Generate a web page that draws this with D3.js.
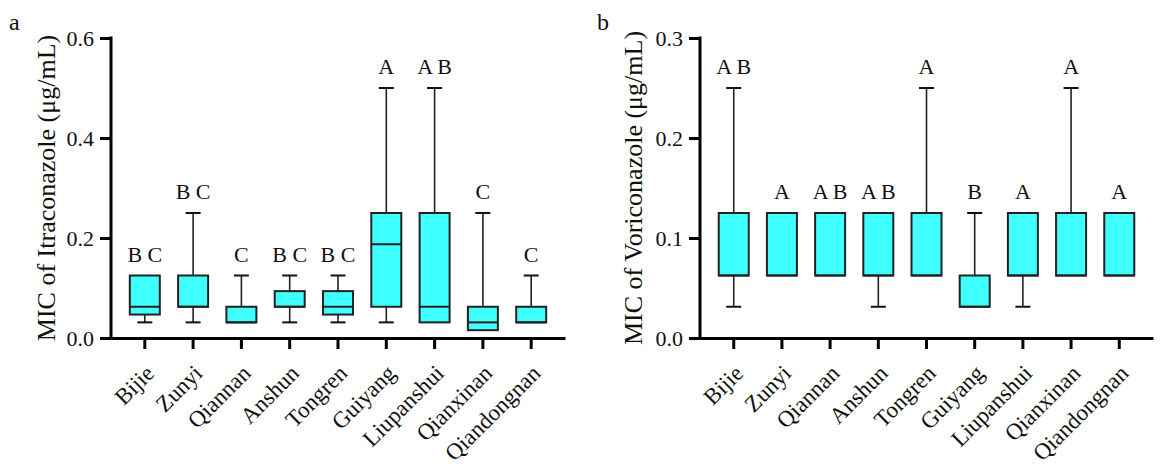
<!DOCTYPE html>
<html>
<head>
<meta charset="utf-8">
<script src="https://cdn.jsdelivr.net/npm/d3@7"></script>
<style>
  body { margin: 0; background: #fff; }
  text { font-family: "Liberation Serif", "Times New Roman", serif; fill: #111; }
</style>
</head>
<body>
<div id="chart"></div>
<script>
let w = 1166
let h = 469

let regions = ["Bijie", "Zunyi", "Qiannan", "Anshun", "Tongren", "Guiyang", "Liupanshui", "Qianxinan", "Qiandongnan"]

// Itraconazole (panel a)
let itraMin = [0.03125, 0.03125, 0.03125, 0.03125, 0.03125, 0.03125, 0.03125, 0.015625, 0.03125]
let itraQ1 = [0.046875, 0.0625, 0.03125, 0.0625, 0.046875, 0.0625, 0.03125, 0.015625, 0.03125]
let itraMed = [0.0625, 0.0625, 0.03125, 0.0625, 0.0625, 0.1875, 0.0625, 0.03125, 0.03125]
let itraQ3 = [0.125, 0.125, 0.0625, 0.09375, 0.09375, 0.25, 0.25, 0.0625, 0.0625]
let itraMax = [0.125, 0.25, 0.125, 0.125, 0.125, 0.5, 0.5, 0.25, 0.125]
let itraLetters = ["B C", "B C", "C", "B C", "B C", "A", "A B", "C", "C"]
let itraTicks = [0, 0.2, 0.4, 0.6]

// Voriconazole (panel b)
let voriMin = [0.03125, 0.0625, 0.0625, 0.03125, 0.0625, 0.03125, 0.03125, 0.0625, 0.0625]
let voriQ1 = [0.0625, 0.0625, 0.0625, 0.0625, 0.0625, 0.03125, 0.0625, 0.0625, 0.0625]
let voriMed = [0.0625, 0.0625, 0.0625, 0.0625, 0.0625, 0.03125, 0.0625, 0.0625, 0.0625]
let voriQ3 = [0.125, 0.125, 0.125, 0.125, 0.125, 0.0625, 0.125, 0.125, 0.125]
let voriMax = [0.25, 0.125, 0.125, 0.125, 0.25, 0.125, 0.125, 0.25, 0.125]
let voriLetters = ["A B", "A", "A B", "A B", "A", "B", "A", "A", "A"]
let voriTicks = [0, 0.1, 0.2, 0.3]

let svg = d3.select("#chart")
  .append("svg")
  .attr("width", w)
  .attr("height", h)

let makeRows = (mins, q1s, meds, q3s, maxs, letters) => regions.map((r, i) => ({
  region: r, min: mins[i], q1: q1s[i], med: meds[i], q3: q3s[i], max: maxs[i], letter: letters[i]
}))

let drawPanel = function(opt) {
  let g = svg.append("g")
  let top = 38, bottom = 338

  let x = d3.scaleBand()
    .domain(regions)
    .range([opt.left, opt.right])
    .paddingInner(0)
    .paddingOuter(0.2)

  let y = d3.scaleLinear()
    .domain([0, opt.yMax])
    .range([bottom, top])

  let boxW = 30
  let capW = 15

  // Boxes
  let boxes = g.selectAll(".box")
    .data(opt.rows)
    .enter()
    .append("g")
    .attr("transform", d => "translate(" + (x(d.region) + x.bandwidth() / 2) + ",0)")

  // Whiskers
  boxes.filter(d => d.max > d.q3)
    .append("line")
    .attr("y1", d => y(d.q3)).attr("y2", d => y(d.max))
    .attr("stroke", "#222").attr("stroke-width", 1.6)
  boxes.filter(d => d.max > d.q3)
    .append("line")
    .attr("x1", -capW / 2).attr("x2", capW / 2)
    .attr("y1", d => y(d.max)).attr("y2", d => y(d.max))
    .attr("stroke", "#111").attr("stroke-width", 2)
  boxes.filter(d => d.min < d.q1)
    .append("line")
    .attr("y1", d => y(d.q1)).attr("y2", d => y(d.min))
    .attr("stroke", "#222").attr("stroke-width", 1.6)
  boxes.filter(d => d.min < d.q1)
    .append("line")
    .attr("x1", -capW / 2).attr("x2", capW / 2)
    .attr("y1", d => y(d.min)).attr("y2", d => y(d.min))
    .attr("stroke", "#111").attr("stroke-width", 2)

  boxes.append("rect")
    .attr("x", -boxW / 2)
    .attr("width", boxW)
    .attr("y", d => y(d.q3))
    .attr("height", d => y(d.q1) - y(d.q3))
    .attr("fill", "#40FFFF")
    .attr("stroke", "#222")
    .attr("stroke-width", 2)

  boxes.append("line")
    .attr("x1", -boxW / 2).attr("x2", boxW / 2)
    .attr("y1", d => y(d.med)).attr("y2", d => y(d.med))
    .attr("stroke", "#222").attr("stroke-width", 2)

  // Significance letters
  boxes.append("text")
    .attr("y", d => y(d.max) - 14)
    .attr("text-anchor", "middle")
    .attr("font-size", 22)
    .text(d => d.letter)

  // Axes
  let yAxis = d3.axisLeft(y)
    .tickValues(opt.ticks)
    .tickFormat(d3.format(".1f"))
    .tickSize(11)
    .tickSizeOuter(0)
    .tickPadding(6)

  let yG = g.append("g")
    .attr("transform", "translate(" + opt.left + ",0)")
    .call(yAxis)
  yG.select(".domain").attr("stroke-width", 3).attr("d", "M0," + (top - 1.5) + "V" + (bottom + 1.5))
  yG.selectAll(".tick line").attr("stroke-width", 3)
  yG.selectAll(".tick text")
    .attr("font-size", 22)
    .attr("fill", "#111")

  let xAxis = d3.axisBottom(x)
    .tickSize(11)
    .tickSizeOuter(0)

  let xG = g.append("g")
    .attr("transform", "translate(0," + bottom + ")")
    .call(xAxis)
  xG.select(".domain").attr("stroke-width", 3)
  xG.selectAll(".tick line").attr("stroke-width", 3)
  xG.selectAll(".tick text")
    .attr("font-size", 23)
    .attr("fill", "#111")
    .attr("text-anchor", "end")
    .attr("transform", "translate(5,31) rotate(-45)")
    .attr("dy", "0.35em")
    .attr("y", 0)
    .attr("x", 0)

  // Y title
  g.append("text")
    .attr("transform", "translate(" + opt.titleX + "," + ((top + bottom) / 2) + ") rotate(-90)")
    .attr("text-anchor", "middle")
    .attr("font-size", 26)
    .text(opt.title)

  // Panel letter
  g.append("text")
    .attr("x", opt.letterX)
    .attr("y", 30)
    .attr("font-size", 24)
    .text(opt.panel)
}

drawPanel({
  rows: makeRows(itraMin, itraQ1, itraMed, itraQ3, itraMax, itraLetters),
  left: 111, right: 565, yMax: 0.6, ticks: itraTicks,
  title: "MIC of Itraconazole (μg/mL)", titleX: 55,
  panel: "a", letterX: 9
})

drawPanel({
  rows: makeRows(voriMin, voriQ1, voriMed, voriQ3, voriMax, voriLetters),
  left: 700, right: 1153, yMax: 0.3, ticks: voriTicks,
  title: "MIC of Voriconazole (μg/mL)", titleX: 642,
  panel: "b", letterX: 597
})
</script>
</body>
</html>
